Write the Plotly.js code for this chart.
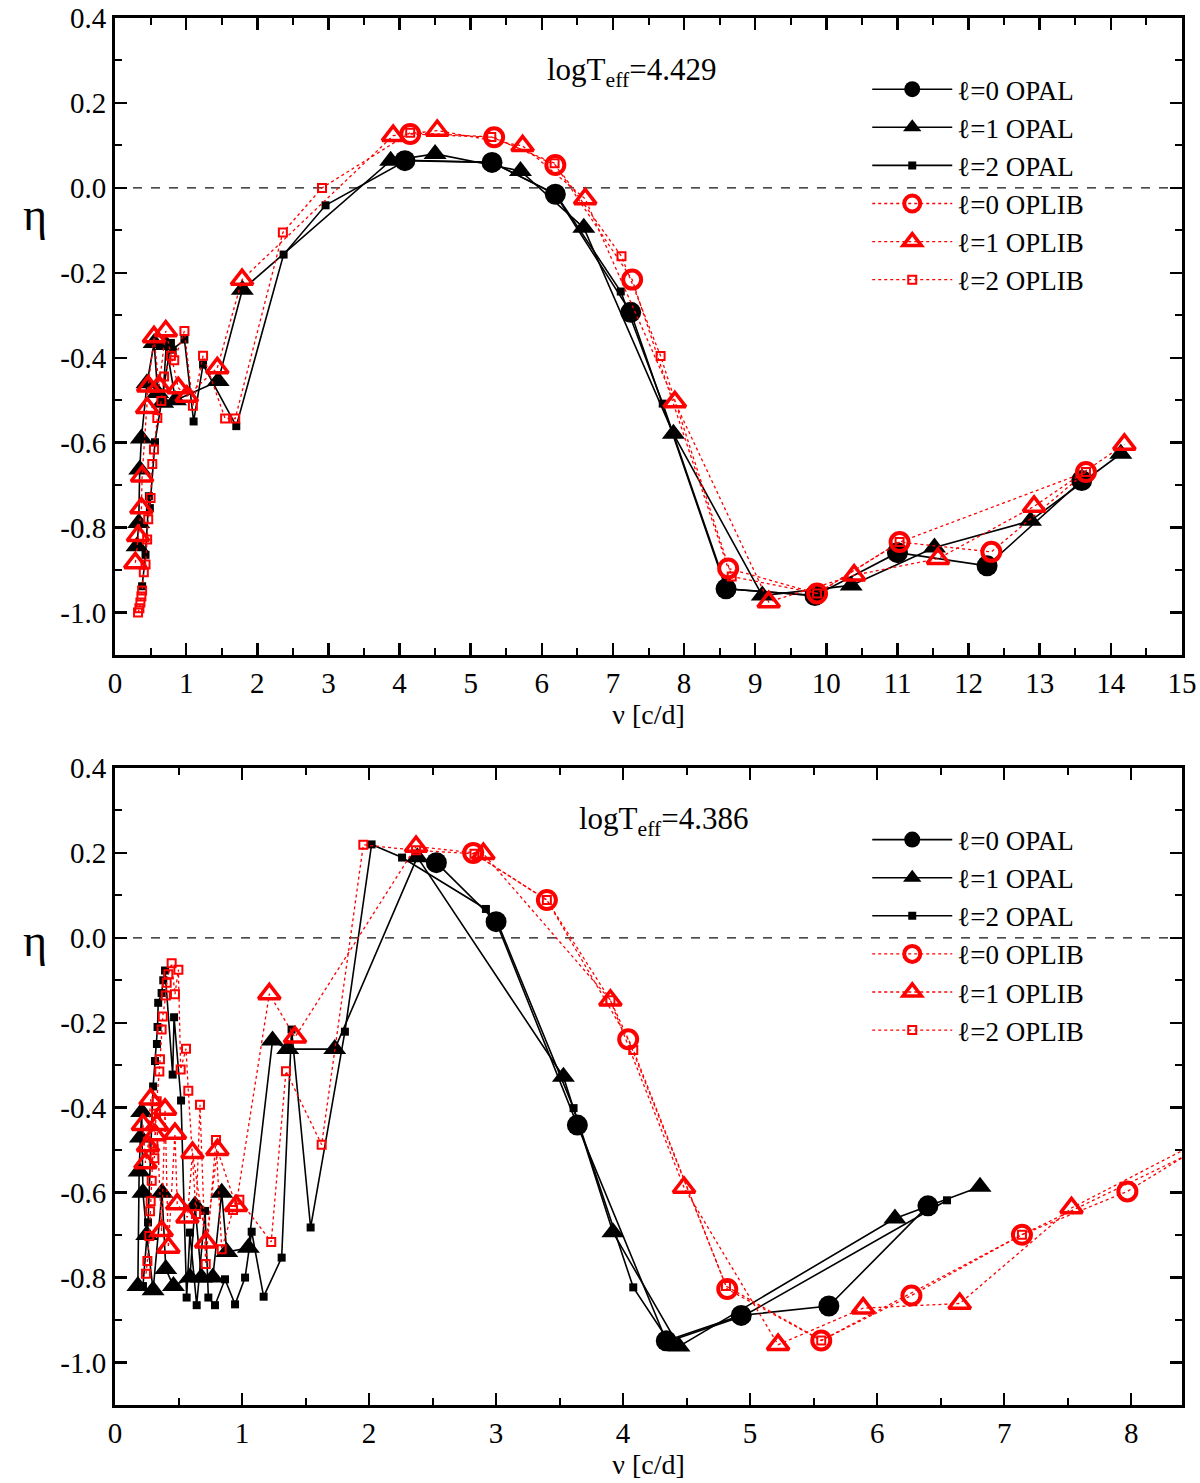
<!DOCTYPE html>
<html>
<head>
<meta charset="utf-8">
<script src="https://cdn.plot.ly/plotly-3.0.1.min.js"></script>
<style>
  body { margin: 0; background: #fff; }
  #chart { width: 1200px; height: 1483px; }
</style>
</head>
<body>
<div id="chart"></div>
<script>
/* eta vs frequency, two models, OPAL (black) and OPLIB (red) */

var seriesNames = ['\u2113=0 OPAL', '\u2113=1 OPAL', '\u2113=2 OPAL', '\u2113=0 OPLIB', '\u2113=1 OPLIB', '\u2113=2 OPLIB'];
var panelLabels = ['logT<sub>eff</sub>=4.429', 'logT<sub>eff</sub>=4.386'];

var yTickVals = [-1.0, -0.8, -0.6, -0.4, -0.2, 0.0, 0.2, 0.4];
var yTickText = ['-1.0', '-0.8', '-0.6', '-0.4', '-0.2', '0.0', '0.2', '0.4'];

// ---- top panel, logTeff = 4.429 ----
var topOpal0V = [4.075, 5.3, 6.19, 7.25, 8.59, 9.84, 11.0, 12.26, 13.59];
var topOpal0Eta = [0.064, 0.06, -0.015, -0.293, -0.944, -0.96, -0.859, -0.89, -0.689];

var topOpal1V = [0.31, 0.333, 0.348, 0.371, 0.45, 0.55, 0.60, 0.67, 0.72, 0.85, 1.45, 1.79, 3.875, 4.5, 5.7, 6.59, 7.85, 9.1, 10.35, 11.52, 12.87, 14.14];
var topOpal1Eta = [-0.844, -0.789, -0.663, -0.59, -0.46, -0.365, -0.483, -0.506, -0.37, -0.50, -0.455, -0.24, 0.064, 0.08, 0.04, -0.094, -0.579, -0.96, -0.936, -0.847, -0.784, -0.626];

var topOpal2V = [0.381, 0.429, 0.476, 0.49, 0.562, 0.786, 0.81, 0.976, 1.105, 1.238, 1.705, 2.37, 2.96, 4.1, 5.3, 6.2, 7.11, 7.70, 8.6, 9.84];
var topOpal2Eta = [-0.938, -0.864, -0.726, -0.754, -0.599, -0.365, -0.381, -0.357, -0.55, -0.416, -0.561, -0.157, -0.041, 0.065, 0.06, -0.015, -0.244, -0.508, -0.944, -0.96];

var topOplib0V = [4.15, 5.33, 6.19, 7.27, 8.62, 9.87, 11.03, 12.32, 13.65];
var topOplib0Eta = [0.127, 0.119, 0.054, -0.216, -0.896, -0.955, -0.834, -0.857, -0.669];

var topOplib1V = [0.286, 0.324, 0.371, 0.381, 0.452, 0.467, 0.548, 0.619, 0.714, 0.89, 1.01, 1.438, 1.786, 3.91, 4.53, 5.73, 6.61, 7.87, 9.19, 10.39, 11.57, 12.92, 14.19];
var topOplib1Eta = [-0.883, -0.819, -0.754, -0.679, -0.518, -0.467, -0.351, -0.467, -0.337, -0.471, -0.491, -0.424, -0.216, 0.123, 0.135, 0.099, -0.026, -0.504, -0.975, -0.912, -0.873, -0.75, -0.604];

var topOplib2V = [0.324, 0.343, 0.357, 0.371, 0.381, 0.405, 0.429, 0.452, 0.467, 0.5, 0.524, 0.548, 0.595, 0.652, 0.69, 0.786, 0.833, 0.976, 1.095, 1.238, 1.548, 1.69, 2.36, 2.91, 4.15, 5.29, 6.18, 7.12, 7.67, 8.67, 9.87, 11.03, 13.65];
var topOplib2Eta = [-1.0, -0.99, -0.976, -0.962, -0.948, -0.905, -0.887, -0.828, -0.78, -0.73, -0.65, -0.616, -0.542, -0.502, -0.444, -0.395, -0.406, -0.337, -0.513, -0.395, -0.543, -0.543, -0.105, 0.0, 0.13, 0.12, 0.058, -0.161, -0.396, -0.915, -0.955, -0.834, -0.669];

// ---- bottom panel, logTeff = 4.386 ----
var botOpal0V = [2.53, 3.0, 3.64, 4.34, 4.93, 5.62, 6.40];
var botOpal0Eta = [0.177, 0.038, -0.441, -0.949, -0.889, -0.867, -0.631];

var botOpal1V = [0.18, 0.19, 0.20, 0.21, 0.22, 0.25, 0.30, 0.37, 0.40, 0.46, 0.59, 0.63, 0.68, 0.77, 0.84, 0.88, 1.05, 1.24, 1.36, 1.73, 2.38, 3.53, 3.92, 4.44, 6.14, 6.81];
var botOpal1Eta = [-0.82, -0.55, -0.47, -0.41, -0.60, -0.70, -0.83, -0.60, -0.78, -0.82, -0.80, -0.63, -0.80, -0.80, -0.60, -0.74, -0.73, -0.242, -0.262, -0.262, 0.19, -0.327, -0.693, -0.962, -0.661, -0.586];

var botOpal2V = [0.22, 0.26, 0.30, 0.315, 0.33, 0.335, 0.34, 0.367, 0.38, 0.394, 0.454, 0.465, 0.52, 0.564, 0.59, 0.643, 0.709, 0.735, 0.787, 0.866, 0.945, 1.024, 1.076, 1.17, 1.312, 1.39, 1.54, 1.81, 2.02, 2.26, 2.92, 3.02, 3.61, 4.08, 4.36, 4.95, 6.55];
var botOpal2Eta = [-0.82, -0.67, -0.35, -0.29, -0.25, -0.21, -0.153, -0.13, -0.10, -0.077, -0.322, -0.187, -0.383, -0.847, -0.694, -0.865, -0.643, -0.847, -0.865, -0.804, -0.863, -0.80, -0.692, -0.845, -0.753, -0.216, -0.682, -0.221, 0.22, 0.189, 0.068, 0.03, -0.401, -0.823, -0.95, -0.89, -0.618];

var botOplib0V = [2.82, 3.40, 4.04, 4.82, 5.56, 6.27, 7.14, 7.97, 8.8];
var botOplib0Eta = [0.2, 0.089, -0.239, -0.827, -0.948, -0.842, -0.699, -0.597, -0.445];

var botOplib1V = [0.22, 0.24, 0.26, 0.28, 0.315, 0.33, 0.367, 0.394, 0.42, 0.472, 0.49, 0.57, 0.61, 0.717, 0.806, 0.953, 1.215, 1.417, 2.37, 2.9, 3.90, 4.48, 5.22, 5.89, 6.65, 7.53, 8.7];
var botOplib1Eta = [-0.44, -0.53, -0.49, -0.38, -0.464, -0.44, -0.69, -0.404, -0.729, -0.461, -0.627, -0.658, -0.506, -0.717, -0.499, -0.631, -0.132, -0.234, 0.215, 0.198, -0.147, -0.588, -0.958, -0.872, -0.861, -0.636, -0.455];

var botOplib2V = [0.244, 0.255, 0.27, 0.276, 0.281, 0.289, 0.302, 0.31, 0.323, 0.328, 0.349, 0.354, 0.367, 0.376, 0.40, 0.407, 0.42, 0.446, 0.472, 0.499, 0.517, 0.559, 0.577, 0.638, 0.669, 0.714, 0.795, 0.84, 0.929, 0.979, 1.23, 1.346, 1.627, 1.955, 2.37, 2.83, 3.40, 3.90, 4.08, 4.81, 5.56, 7.14, 8.7];
var botOplib2Eta = [-0.791, -0.761, -0.702, -0.644, -0.62, -0.572, -0.485, -0.519, -0.414, -0.385, -0.315, -0.286, -0.216, -0.185, -0.136, -0.106, -0.086, -0.06, -0.133, -0.075, -0.31, -0.261, -0.36, -0.65, -0.393, -0.768, -0.476, -0.733, -0.641, -0.617, -0.716, -0.314, -0.487, 0.219, 0.206, 0.198, 0.089, -0.147, -0.264, -0.82, -0.948, -0.699, -0.474];

var serif = 'Liberation Serif';

var styles = [
  { line: { color: 'black', width: 1.6 }, marker: { symbol: 'circle', size: 21, color: 'black' } },
  { line: { color: 'black', width: 1.6 }, marker: { symbol: 'triangle-up', size: 20, color: 'black' } },
  { line: { color: 'black', width: 1.6 }, marker: { symbol: 'square', size: 8, color: 'black' } },
  { line: { color: 'red', width: 1.3, dash: 'dot' }, marker: { symbol: 'circle-open', size: 18, color: 'red', line: { width: 4, color: 'red' } } },
  { line: { color: 'red', width: 1.3, dash: 'dot' }, marker: { symbol: 'triangle-up-open', size: 19, color: 'red', line: { width: 3.5, color: 'red' } } },
  { line: { color: 'red', width: 1.3, dash: 'dot' }, marker: { symbol: 'square-open', size: 8, color: 'red', line: { width: 2, color: 'red' } } }
];

function makeTrace(i, xs, ys, panel) {
  return {
    x: xs,
    y: ys,
    type: 'scatter',
    mode: 'lines+markers',
    name: seriesNames[i],
    line: styles[i].line,
    marker: styles[i].marker,
    xaxis: panel == 0 ? 'x' : 'x2',
    yaxis: panel == 0 ? 'y' : 'y2',
    legend: panel == 0 ? 'legend' : 'legend2',
    cliponaxis: true
  };
}

var data = [
  makeTrace(0, topOpal0V, topOpal0Eta, 0),
  makeTrace(1, topOpal1V, topOpal1Eta, 0),
  makeTrace(2, topOpal2V, topOpal2Eta, 0),
  makeTrace(3, topOplib0V, topOplib0Eta, 0),
  makeTrace(4, topOplib1V, topOplib1Eta, 0),
  makeTrace(5, topOplib2V, topOplib2Eta, 0),
  makeTrace(0, botOpal0V, botOpal0Eta, 1),
  makeTrace(1, botOpal1V, botOpal1Eta, 1),
  makeTrace(2, botOpal2V, botOpal2Eta, 1),
  makeTrace(3, botOplib0V, botOplib0Eta, 1),
  makeTrace(4, botOplib1V, botOplib1Eta, 1),
  makeTrace(5, botOplib2V, botOplib2Eta, 1)
];

function xAxis(range, anchor) {
  return {
    range: range, anchor: anchor, domain: [0, 1],
    dtick: 1, tick0: 0,
    showline: true, linewidth: 3, linecolor: 'black', mirror: 'ticks',
    ticks: 'inside', ticklen: 12, tickwidth: 2.5, tickcolor: 'black',
    minor: { dtick: 0.5, tick0: 0, ticks: 'inside', ticklen: 7, tickwidth: 2, tickcolor: 'black' },
    showgrid: false, zeroline: false,
    tickfont: { family: serif, size: 29, color: 'black' },
    title: { text: '\u03bd [c/d]', font: { family: serif, size: 28, color: 'black' }, standoff: 2 }
  };
}

function yAxis(domain, anchor) {
  return {
    range: [-1.1, 0.4], anchor: anchor, domain: domain,
    tickmode: 'array', tickvals: yTickVals, ticktext: yTickText,
    showline: true, linewidth: 3, linecolor: 'black', mirror: 'ticks',
    ticks: 'inside', ticklen: 12, tickwidth: 2.5, tickcolor: 'black',
    minor: { dtick: 0.1, tick0: 0, ticks: 'inside', ticklen: 7, tickwidth: 2, tickcolor: 'black' },
    showgrid: false, zeroline: false,
    tickfont: { family: serif, size: 29, color: 'black' }
  };
}

function legendBox(ytop) {
  return {
    x: 0.705, xanchor: 'left', y: ytop, yanchor: 'top',
    bgcolor: 'rgba(0,0,0,0)', borderwidth: 0,
    font: { family: serif, size: 27, color: 'black' },
    itemwidth: 80, tracegroupgap: 0, traceorder: 'normal'
  };
}

var layout = {
  width: 1200,
  height: 1483,
  margin: { l: 115, r: 18, t: 18, b: 78 },
  paper_bgcolor: 'white',
  plot_bgcolor: 'white',
  font: { family: serif, color: 'black' },
  showlegend: true,
  xaxis: xAxis([0, 15], 'y'),
  yaxis: yAxis([0.5407, 1], 'x'),
  xaxis2: xAxis([0, 8.4], 'y2'),
  yaxis2: yAxis([0, 0.4593], 'x2'),
  legend: legendBox(0.966),
  legend2: legendBox(0.425),
  shapes: [
    { type: 'line', xref: 'x domain', yref: 'y', x0: 0, x1: 1, y0: 0, y1: 0, line: { color: '#111', width: 1.2, dash: 'dash' }, layer: 'below' },
    { type: 'line', xref: 'x2 domain', yref: 'y2', x0: 0, x1: 1, y0: 0, y1: 0, line: { color: '#111', width: 1.2, dash: 'dash' }, layer: 'below' }
  ],
  annotations: [
    { text: panelLabels[0], xref: 'paper', yref: 'paper', x: 0.4845, y: 0.961, xanchor: 'center', yanchor: 'middle', showarrow: false, font: { family: serif, size: 31, color: 'black' } },
    { text: panelLabels[1], xref: 'paper', yref: 'paper', x: 0.514, y: 0.421, xanchor: 'center', yanchor: 'middle', showarrow: false, font: { family: serif, size: 31, color: 'black' } },
    { text: '\u03b7', xref: 'paper', yref: 'paper', x: -0.075, y: 0.858, xanchor: 'center', yanchor: 'middle', showarrow: false, font: { family: serif, size: 46, color: 'black' } },
    { text: '\u03b7', xref: 'paper', yref: 'paper', x: -0.075, y: 0.335, xanchor: 'center', yanchor: 'middle', showarrow: false, font: { family: serif, size: 46, color: 'black' } }
  ]
};

Plotly.newPlot('chart', data, layout, { displayModeBar: false, staticPlot: true });
</script>
</body>
</html>
